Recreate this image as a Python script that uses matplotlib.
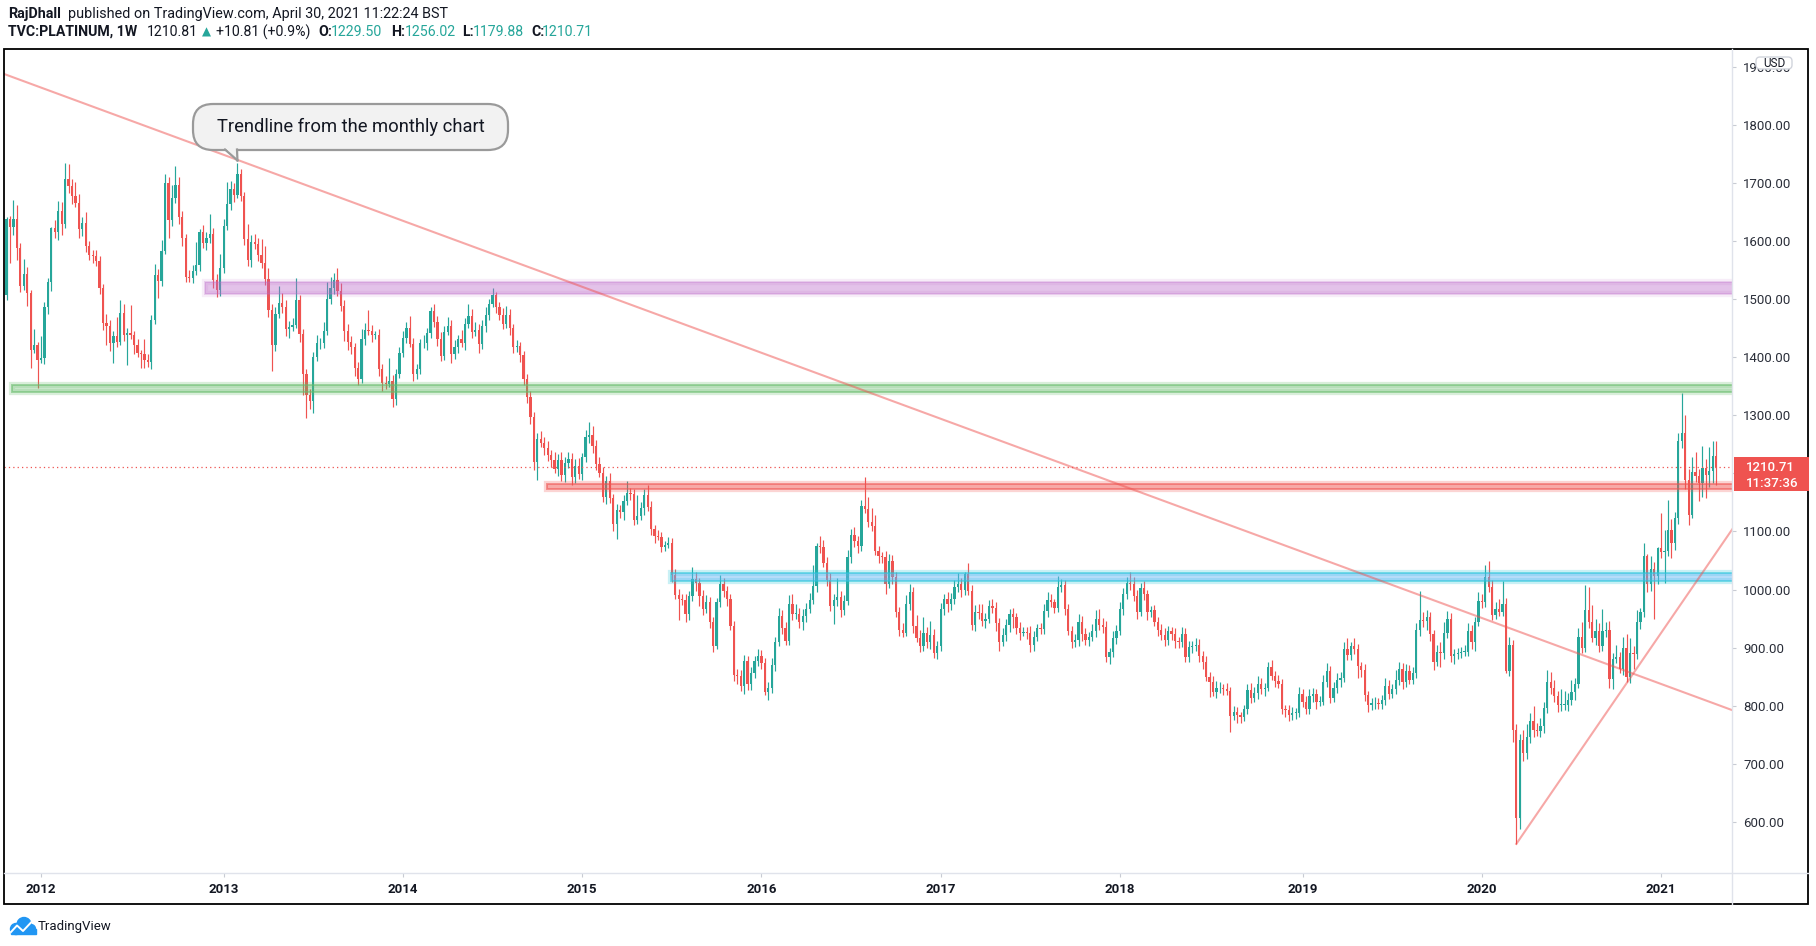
import numpy as np
import pandas as pd
import matplotlib
matplotlib.use("Agg")
import matplotlib.pyplot as plt
from matplotlib.patches import Rectangle, FancyBboxPatch, Polygon, Circle

plt.rcParams['font.family'] = ['Roboto', 'DejaVu Sans']

# ---------------- data (weekly TVC:PLATINUM) ----------------
first_week = "2011-10-24"
first_open = 1507
last_open = 1229.50

close_2011 = [1639, 1625, 1639, 1589, 1523, 1543, 1510, 1413, 1421, 1395]
close_2012 = [1398, 1487, 1530, 1622, 1616, 1652, 1629, 1707, 1695, 1678,
              1666, 1621, 1632, 1591, 1577, 1574, 1566, 1519, 1459, 1454,
              1424, 1437, 1427, 1476, 1438, 1442, 1438, 1421, 1407, 1406,
              1395, 1392, 1464, 1542, 1531, 1583, 1701, 1636, 1674, 1697,
              1642, 1606, 1539, 1537, 1549, 1559, 1615, 1597, 1605, 1613,
              1533, 1516, 1553]
close_2013 = [1626, 1664, 1689, 1680, 1715, 1677, 1603, 1568, 1598, 1595,
              1577, 1562, 1534, 1481, 1421, 1475, 1493, 1487, 1449, 1453,
              1456, 1498, 1440, 1372, 1335, 1324, 1401, 1424, 1424, 1445,
              1500, 1519, 1533, 1514, 1489, 1446, 1427, 1417, 1382, 1363,
              1431, 1447, 1446, 1438, 1438, 1380, 1356, 1354, 1359, 1329,
              1372, 1408]
close_2014 = [1434, 1450, 1423, 1372, 1380, 1424, 1425, 1441, 1479, 1461,
              1431, 1403, 1444, 1454, 1405, 1417, 1431, 1425, 1458, 1471,
              1444, 1447, 1423, 1454, 1473, 1492, 1507, 1486, 1473, 1458,
              1473, 1450, 1417, 1419, 1404, 1363, 1332, 1297, 1220, 1259,
              1253, 1243, 1231, 1223, 1208, 1223, 1197, 1218, 1225, 1194,
              1213, 1199]
close_2015 = [1228, 1262, 1266, 1247, 1216, 1201, 1160, 1187, 1157, 1113,
              1137, 1134, 1153, 1167, 1164, 1119, 1127, 1140, 1163, 1143,
              1104, 1092, 1091, 1074, 1077, 1081, 1025, 991, 984, 982,
              958, 989, 1018, 1012, 989, 967, 978, 945, 903, 978,
              1010, 998, 983, 938, 853, 851, 834, 877, 837, 857,
              877, 886]
close_2016 = [874, 824, 830, 870, 910, 954, 933, 912, 976, 958,
              958, 944, 954, 967, 982, 1006, 1075, 1073, 1046, 1016,
              971, 982, 988, 964, 980, 1056, 1094, 1084, 1075, 1144,
              1138, 1117, 1109, 1067, 1057, 1056, 1010, 1049, 1021, 962,
              930, 926, 975, 996, 937, 917, 902, 926, 910, 922,
              890, 903]
close_2017 = [967, 984, 975, 984, 1004, 1010, 1000, 1027, 998, 939,
              962, 959, 946, 950, 972, 969, 943, 910, 922, 939,
              958, 952, 934, 926, 927, 925, 905, 919, 933, 932,
              963, 982, 978, 969, 1004, 1008, 966, 929, 909, 913,
              944, 923, 913, 919, 929, 950, 939, 936, 884, 892,
              916, 929]
close_2018 = [967, 992, 1011, 1009, 989, 962, 1002, 992, 962, 964,
              945, 930, 922, 913, 928, 923, 911, 909, 923, 884,
              901, 903, 905, 886, 875, 850, 841, 824, 830, 830,
              829, 826, 783, 789, 784, 781, 794, 827, 814, 822,
              837, 829, 831, 866, 852, 843, 838, 795, 793, 784,
              787, 788, 820]
close_2019 = [807, 794, 817, 821, 807, 807, 841, 859, 814, 830,
              844, 848, 897, 888, 902, 897, 868, 861, 818, 801,
              804, 805, 803, 809, 834, 821, 828, 845, 863, 841,
              860, 845, 856, 930, 947, 946, 952, 923, 876, 893,
              890, 925, 949, 886, 889, 890, 893, 893, 929, 910,
              945, 981]
close_2020 = [978, 1022, 1005, 957, 966, 962, 975, 860, 904, 758,
              607, 741, 719, 746, 774, 758, 756, 765, 796, 840,
              831, 816, 801, 801, 801, 810, 824, 838, 918, 900,
              964, 944, 917, 929, 903, 929, 930, 846, 881, 884,
              863, 900, 849, 890, 889, 944, 962, 1057, 1010, 1035,
              1023, 1071]
close_2021 = [1064, 1067, 1102, 1080, 1123, 1255, 1270, 1188, 1128, 1203,
              1196, 1184, 1210, 1197, 1205, 1230, 1210.71]

# upper / lower wick lengths beyond the candle body
up_2011 = [3, 4, 32, 23, 8, 27, 13, 6, 28, 5]
dn_2011 = [8, 63, 14, 21, 10, 7, 21, 32, 6, 48]
up_2012 = [38, 8, 7, 3, 15, 17, 16, 27, 26, 12, 24, 16, 10, 18, 9, 8, 10, 9, 8, 15,
           10, 8, 33, 23, 16, 8, 48, 8, 10, 6, 26, 10, 8, 19, 10, 19, 15, 10, 23, 32,
           14, 10, 6, 12, 10, 40, 6, 12, 10, 34, 9, 10, 25]
dn_2012 = [5, 10, 12, 15, 10, 14, 18, 6, 12, 14, 8, 15, 12, 10, 9, 11, 8, 10, 12, 33,
           14, 34, 10, 6, 10, 52, 6, 15, 7, 25, 14, 9, 13, 6, 29, 8, 5, 31, 10, 8,
           12, 15, 10, 8, 9, 8, 10, 9, 12, 8, 14, 12, 10]
up_2013 = [12, 38, 14, 12, 19, 10, 8, 27, 12, 15, 10, 27, 30, 20, 10, 12, 29, 18, 12, 10,
           12, 39, 10, 8, 8, 10, 8, 14, 10, 16, 30, 20, 13, 20, 14, 10, 12, 10, 8, 10,
           18, 12, 34, 10, 8, 10, 8, 12, 39, 10, 8, 10]
dn_2013 = [8, 6, 10, 12, 6, 8, 10, 10, 12, 8, 12, 8, 10, 12, 44, 10, 8, 10, 12, 16,
           8, 6, 14, 37, 39, 13, 20, 8, 10, 8, 6, 8, 10, 8, 10, 18, 14, 12, 14, 10,
           8, 10, 8, 12, 6, 12, 14, 8, 6, 14, 12, 8]
up_2014 = [12, 10, 21, 10, 8, 8, 14, 10, 8, 12, 10, 12, 10, 16, 10, 12, 8, 16, 10, 20,
           12, 14, 10, 10, 14, 8, 12, 5, 10, 12, 16, 10, 8, 10, 8, 6, 8, 10, 8, 10,
           14, 10, 12, 10, 14, 10, 14, 10, 12, 10, 12, 14]
dn_2014 = [8, 10, 6, 12, 10, 8, 8, 12, 8, 8, 12, 10, 8, 6, 14, 8, 10, 8, 12, 8,
           10, 8, 16, 8, 10, 8, 6, 10, 8, 10, 8, 12, 10, 8, 12, 10, 10, 12, 14, 31,
           8, 12, 10, 12, 8, 12, 10, 12, 8, 14, 10, 8]
up_2015 = [8, 12, 23, 16, 10, 12, 10, 8, 14, 8, 10, 8, 10, 20, 8, 10, 36, 10, 10, 17,
           10, 8, 10, 8, 6, 10, 8, 10, 10, 8, 10, 8, 20, 12, 8, 10, 12, 10, 8, 8,
           15, 10, 8, 10, 8, 10, 10, 10, 8, 10, 8, 12]
dn_2015 = [10, 8, 10, 12, 10, 8, 10, 12, 8, 12, 26, 10, 14, 8, 10, 8, 6, 8, 12, 8,
           10, 12, 6, 10, 8, 6, 12, 8, 36, 8, 14, 10, 8, 14, 18, 10, 8, 12, 10, 6,
           8, 10, 12, 8, 10, 14, 8, 14, 10, 10, 10, 8]
up_2016 = [10, 8, 10, 12, 8, 14, 10, 12, 14, 16, 18, 10, 12, 10, 12, 36, 5, 17, 12, 10,
           12, 10, 32, 10, 10, 12, 10, 14, 8, 10, 49, 22, 24, 20, 8, 8, 10, 12, 10, 10,
           8, 12, 16, 14, 8, 20, 14, 26, 10, 24, 10, 8]
dn_2016 = [10, 6, 14, 8, 10, 8, 10, 8, 8, 10, 8, 10, 14, 10, 8, 6, 10, 10, 8, 10,
           8, 30, 10, 12, 8, 6, 10, 10, 12, 8, 6, 10, 8, 8, 12, 10, 18, 8, 12, 10,
           10, 8, 6, 10, 12, 8, 10, 8, 10, 12, 8, 10]
up_2017 = [10, 8, 12, 10, 12, 18, 10, 4, 18, 10, 12, 14, 16, 10, 10, 12, 10, 8, 12, 10,
           8, 10, 8, 10, 8, 8, 12, 10, 8, 10, 12, 14, 10, 6, 19, 10, 8, 10, 8, 10,
           14, 10, 10, 8, 12, 14, 16, 12, 10, 8, 12, 10]
dn_2017 = [8, 10, 14, 10, 8, 8, 12, 10, 8, 8, 10, 10, 8, 12, 8, 10, 14, 16, 8, 10,
           12, 18, 10, 12, 6, 10, 12, 10, 8, 8, 8, 10, 8, 10, 8, 8, 10, 8, 10, 8,
           10, 12, 8, 10, 8, 10, 8, 10, 8, 12, 8, 10]
up_2018 = [12, 10, 10, 19, 12, 10, 10, 12, 8, 8, 10, 8, 10, 12, 10, 8, 10, 8, 12, 10,
           10, 8, 12, 10, 8, 10, 8, 10, 12, 10, 8, 10, 6, 10, 8, 6, 8, 10, 12, 10,
           14, 10, 8, 10, 12, 8, 10, 8, 6, 8, 10, 8, 12]
dn_2018 = [8, 10, 8, 10, 8, 12, 8, 10, 14, 10, 8, 10, 8, 10, 8, 10, 12, 10, 8, 8,
           8, 10, 8, 10, 12, 8, 26, 8, 10, 8, 10, 8, 28, 8, 14, 10, 8, 8, 10, 8,
           10, 8, 12, 6, 8, 10, 8, 10, 12, 10, 8, 10, 8]
up_2019 = [8, 10, 12, 10, 8, 10, 12, 14, 10, 10, 12, 10, 12, 20, 8, 14, 10, 8, 10, 8,
           10, 10, 8, 10, 14, 10, 10, 16, 12, 10, 12, 10, 10, 12, 51, 14, 12, 10, 8, 12,
           16, 20, 14, 10, 8, 10, 8, 12, 14, 10, 8, 14]
dn_2019 = [10, 8, 8, 10, 12, 8, 6, 8, 10, 8, 8, 12, 8, 10, 10, 8, 20, 12, 10, 12,
           8, 10, 8, 8, 8, 10, 8, 8, 10, 12, 8, 8, 8, 8, 10, 10, 16, 12, 14, 8,
           24, 10, 8, 10, 14, 8, 8, 8, 8, 12, 16, 8]
up_2020 = [12, 20, 27, 12, 12, 18, 40, 10, 14, 10, 10, 10, 18, 22, 14, 26, 12, 14, 10, 22,
           18, 14, 10, 28, 24, 12, 20, 10, 15, 26, 44, 40, 30, 20, 14, 37, 15, 16, 10, 20,
           9, 18, 24, 26, 12, 20, 6, 23, 4, 23, 12, 3]
dn_2020 = [10, 8, 10, 10, 8, 8, 8, 4, 8, 20, 45, 20, 15, 10, 10, 12, 8, 10, 12, 8,
           10, 10, 12, 10, 8, 10, 8, 14, 8, 10, 8, 10, 8, 12, 10, 8, 10, 16, 18, 8,
           7, 10, 8, 10, 25, 8, 12, 10, 14, 12, 73, 14]
up_2021 = [60, 36, 52, 20, 10, 15, 68, 31, 20, 26, 34, 12, 37, 15, 40, 25, 26.52]
dn_2021 = [10, 53, 10, 26, 12, 10, 12, 15, 16, 5, 10, 31, 25, 40, 20, 21, 30.83]

# drawn levels (price zones) and trend lines
purple_zone = (1509, 1530)
green_zone = (1340, 1351.5)
red_zone = (1173, 1181.5)
blue_zone = (1014, 1028)
zone_start_week = {"purple": "2012-12-03", "green": "2011-11-07",
                   "red": "2014-10-27", "blue": "2015-07-06"}
down_trend = [("2012-01-02", 1864.5), ("2019-09-02", 990.4)]
up_trend_start = ("2020-03-16", 562)
up_trend_slope = 8.65          # USD per week
callout_anchor = ("2013-02-04", 1739)
last_price = 1210.71
countdown = "11:37:36"
y_ticks = list(range(600, 2000, 100))
hidden_tick = 1200             # covered by the last-price tag in the reference

# ---------------- derived series ----------------
closes = np.array(close_2011 + close_2012 + close_2013 + close_2014 + close_2015 + close_2016 +
                  close_2017 + close_2018 + close_2019 + close_2020 + close_2021, float)
up = np.array(up_2011 + up_2012 + up_2013 + up_2014 + up_2015 + up_2016 +
              up_2017 + up_2018 + up_2019 + up_2020 + up_2021, float)
dn = np.array(dn_2011 + dn_2012 + dn_2013 + dn_2014 + dn_2015 + dn_2016 +
              dn_2017 + dn_2018 + dn_2019 + dn_2020 + dn_2021, float)
opens = np.concatenate([[first_open], closes[:-1]])
opens[-1] = last_open
highs = np.maximum(opens, closes) + up
lows = np.minimum(opens, closes) - dn
dates = pd.date_range(first_week, periods=len(closes), freq="W-MON")
x = np.arange(len(closes))


def pos(d):
    return int(np.searchsorted(dates, pd.Timestamp(d)))


TEAL = "#26a69a"
RED = "#ef5350"
TXT = "#131722"

W, H = 1816, 946
fig = plt.figure(figsize=(W / 100, H / 100), dpi=100)
fig.patch.set_facecolor("white")

PL, PR, PT, PB = 4, 1732, 49, 873
ax = fig.add_axes([PL / W, 1 - PB / H, (PR - PL) / W, (PB - PT) / H])
XL = (-0.73, 500.57)
YL = (511.9, 1930.9)
ax.set_xlim(*XL)
ax.set_ylim(*YL)
for s in ax.spines.values():
    s.set_visible(False)
ax.set_facecolor("white")

# candles
is_up = closes >= opens
cols = np.where(is_up, TEAL, RED)
ax.vlines(x, lows, highs, colors=cols, lw=0.85, zorder=2)
body = np.maximum(np.abs(closes - opens), 1.3)
ax.bar(x, body, bottom=np.minimum(opens, closes), width=0.66, color=cols, lw=0, zorder=2.1)


# zones
def zone(start, rng, fill, a_fill, edge, a_edge, halo=True):
    x0 = pos(start) - 0.3
    lo, hi = rng
    w = 520 - x0
    if halo:
        ax.add_patch(Rectangle((x0, lo), w, hi - lo, fill=False, ec=edge, alpha=a_edge * 0.45,
                               lw=4.5, zorder=3))
    ax.add_patch(Rectangle((x0, lo), w, hi - lo, fc=fill, alpha=a_fill, lw=0, zorder=3))
    ax.add_patch(Rectangle((x0, lo), w, hi - lo, fill=False, ec=edge, alpha=a_edge, lw=1.4, zorder=3))


zone(zone_start_week["purple"], purple_zone, "#ba68c8", 0.40, "#ba68c8", 0.25)
zone(zone_start_week["green"], green_zone, "#66bb6a", 0.30, "#66bb6a", 0.55)
zone(zone_start_week["red"], red_zone, "#ef5350", 0.33, "#ef5350", 0.55)
zone(zone_start_week["blue"], blue_zone, "#64b5f6", 0.45, "#26c6da", 0.55)

# trend lines
(d1, v1), (d2, v2) = down_trend
ax.axline((pos(d1), v1), (pos(d2), v2), color=RED, alpha=0.5, lw=1.5, zorder=4)
ux0 = pos(up_trend_start[0])
ax.plot([ux0, 520], [up_trend_start[1], up_trend_start[1] + up_trend_slope * (520 - ux0)],
        color=RED, alpha=0.5, lw=1.5, zorder=4)

# last price dotted line
ax.axhline(last_price, color=RED, lw=0.9, ls=(0, (1, 2.5)), zorder=4)

# axes ticks
ax.yaxis.tick_right()
ax.set_yticks(y_ticks)
ax.set_yticklabels(["" if v == hidden_tick else f"{v:.2f}" for v in y_ticks],
                   fontsize=9.5, color="#2a2e39")
ax.tick_params(axis="y", length=3, width=0.8, color="#c8cbd3", pad=5)
yr_pos = [i for i in range(1, len(dates)) if dates[i].year != dates[i - 1].year]
ax.set_xticks(yr_pos)
ax.set_xticklabels([str(dates[i].year) for i in yr_pos], fontsize=9.5, fontweight="bold", color=TXT)
ax.tick_params(axis="x", length=3, width=0.8, color="#c8cbd3", pad=4)

# ---------------- overlay in pixel coordinates ----------------
ov = fig.add_axes([0, 0, 1, 1], zorder=10)
ov.set_xlim(0, W)
ov.set_ylim(H, 0)
ov.axis("off")


def px(xv, yv):
    return (PL + (xv - XL[0]) / (XL[1] - XL[0]) * (PR - PL),
            PT + (YL[1] - yv) / (YL[1] - YL[0]) * (PB - PT))


ov.plot([PL, 1808], [PB, PB], color="#e0e3eb", lw=1)
ov.plot([PR, PR], [PT, 904], color="#e0e3eb", lw=1)
ov.add_patch(Rectangle((4, 49), 1804, 855, fill=False, ec="#000000", lw=1.3))

# header
ov.text(8, 14, "RajDhall", fontsize=10.4, fontweight="bold", color=TXT, va="center")
ov.text(68, 14, "published on TradingView.com, April 30, 2021 11:22:24 BST", fontsize=10.4,
        color=TXT, va="center")
hdr = [(8, "TVC:PLATINUM, 1W", TXT, "bold"), (147, "1210.81", TXT, "normal"),
       (202, "▲", TEAL, "normal"), (216, "+10.81 (+0.9%)", TXT, "normal"),
       (318, "O:", TXT, "bold"), (331, "1229.50", TEAL, "normal"),
       (391, "H:", TXT, "bold"), (405, "1256.02", TEAL, "normal"),
       (462, "L:", TXT, "bold"), (473, "1179.88", TEAL, "normal"),
       (531, "C:", TXT, "bold"), (542, "1210.71", TEAL, "normal")]
for hx, t, c, wgt in hdr:
    ov.text(hx, 32, t, fontsize=10.2 if t != "▲" else 8.5, color=c, fontweight=wgt, va="center")

# last price tag
_, py = px(0, last_price)
ov.add_patch(Rectangle((1734, py - 10), 75, 34, fc=RED, ec="none"))
ov.text(1746, py, f"{last_price:.2f}", color="white", fontsize=9.5, va="center", fontweight="medium")
ov.text(1746, py + 16, countdown, color="white", fontsize=9.5, va="center", fontweight="medium")

# USD badge
ov.add_patch(FancyBboxPatch((1756, 57), 36, 12, boxstyle="round,pad=0,rounding_size=4",
                            fc="white", ec="#d1d4dc", lw=1))
ov.text(1774, 63.5, "USD", fontsize=8.5, color=TXT, ha="center", va="center")

# callout
tx, ty = px(pos(callout_anchor[0]), callout_anchor[1])
ov.add_patch(FancyBboxPatch((193, 104), 315, 46, boxstyle="round,pad=0,rounding_size=20",
                            fc="#f2f2f2", ec="#9a9a9a", lw=1.6, zorder=5))
ov.add_patch(Polygon([(225, 148), (tx, ty), (237, 148)], closed=True, fc="#f2f2f2", ec="none", zorder=6))
ov.plot([225, tx], [149.5, ty], color="#9a9a9a", lw=1.6, zorder=7)
ov.plot([237, tx], [149.5, ty], color="#9a9a9a", lw=1.6, zorder=7)
ov.text(351, 127, "Trendline from the monthly chart", fontsize=13.2, color=TXT,
        ha="center", va="center", zorder=8)

# TradingView logo
for cx, cy, r in [(16, 929, 5.5), (24, 924.5, 7), (31, 929, 4.5)]:
    ov.add_patch(Circle((cx, cy), r, color="#2196f3"))
ov.add_patch(Rectangle((10.5, 929), 25, 4.5, color="#2196f3"))
ov.plot([11, 17, 23, 31], [932, 925.5, 931, 922.5], color="white", lw=1.4)
ov.text(38, 926, "TradingView", fontsize=9.5, color=TXT, va="center")

fig.savefig("out.png", dpi=100, facecolor="white")
